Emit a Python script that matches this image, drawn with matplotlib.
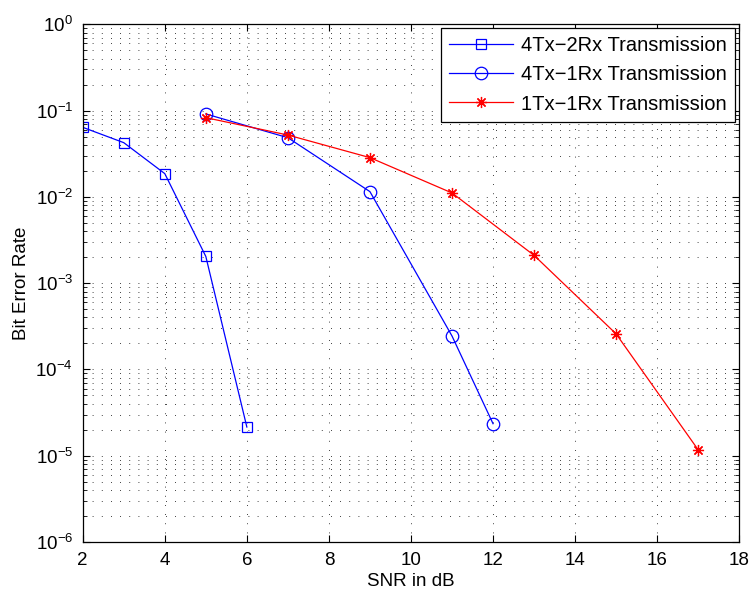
import matplotlib
matplotlib.use("Agg")
import matplotlib.pyplot as plt
from matplotlib.ticker import LogLocator, NullFormatter, FixedLocator

plt.rcParams["font.family"] = ["Liberation Sans", "DejaVu Sans"]
plt.rcParams["mathtext.default"] = "regular"
plt.rcParams["font.size"] = 13.5

# values
snr_4x2 = [2, 3, 4, 5, 6]
ber_4x2 = [0.064, 0.0425, 0.0186, 0.00204, 2.15e-5]

snr_4x1 = [5, 7, 9, 11, 12]
ber_4x1 = [0.0914, 0.0485, 0.0115, 2.44e-4, 2.35e-5]

snr_1x1 = [5, 7, 9, 11, 13, 15, 17]
ber_1x1 = [0.0828, 0.0521, 0.0285, 0.0111, 0.0021, 2.58e-4, 1.17e-5]

labels = ["4Tx\u22122Rx Transmission", "4Tx\u22121Rx Transmission",
          "1Tx\u22121Rx Transmission"]
x_ticks = [2, 4, 6, 8, 10, 12, 14, 16, 18]

fig = plt.figure(figsize=(7.52, 5.99), dpi=100)
ax = fig.add_axes([0.110, 0.0952, 0.873, 0.8642])

ax.semilogy(snr_4x2, ber_4x2, "-s", color="b", lw=0.9, ms=7.5, mfc="none",
            mew=0.9, label=labels[0])
ax.semilogy(snr_4x1, ber_4x1, "-o", color="b", lw=0.9, ms=9, mfc="none",
            mew=0.9, label=labels[1])
ax.semilogy(snr_1x1, ber_1x1, "-", marker=(8, 2, 0), color="r", lw=0.9,
            ms=8, mew=0.9, label=labels[2])

ax.set_xlim(2, 18)
ax.set_ylim(1e-6, 1)
ax.xaxis.set_major_locator(FixedLocator(x_ticks))
ax.yaxis.set_major_locator(LogLocator(base=10, numticks=10))
ax.yaxis.set_minor_locator(LogLocator(base=10, subs=range(2, 10), numticks=20))
ax.yaxis.set_minor_formatter(NullFormatter())

grid_dots = (0, (1, 10))
ax.grid(True, which="major", axis="both", color="k", lw=0.6,
        linestyle=grid_dots)
ax.grid(True, which="minor", axis="y", color="k", lw=0.6,
        linestyle=grid_dots)

ax.tick_params(which="both", direction="in", top=True, right=True)
ax.tick_params(which="major", length=5, pad=7)
ax.tick_params(which="minor", length=3)
for s in ax.spines.values():
    s.set_linewidth(0.9)

ax.set_xlabel("SNR in dB", labelpad=3)
ax.set_ylabel("Bit Error Rate", labelpad=4)

leg = ax.legend(loc="upper right", fancybox=False, framealpha=1,
                edgecolor="k", borderaxespad=0.2, handlelength=3.2,
                handletextpad=0.4, labelspacing=0.5, borderpad=0.4,
                fontsize=14.5)
leg.get_frame().set_linewidth(0.9)

fig.savefig("out.png", dpi=100)
